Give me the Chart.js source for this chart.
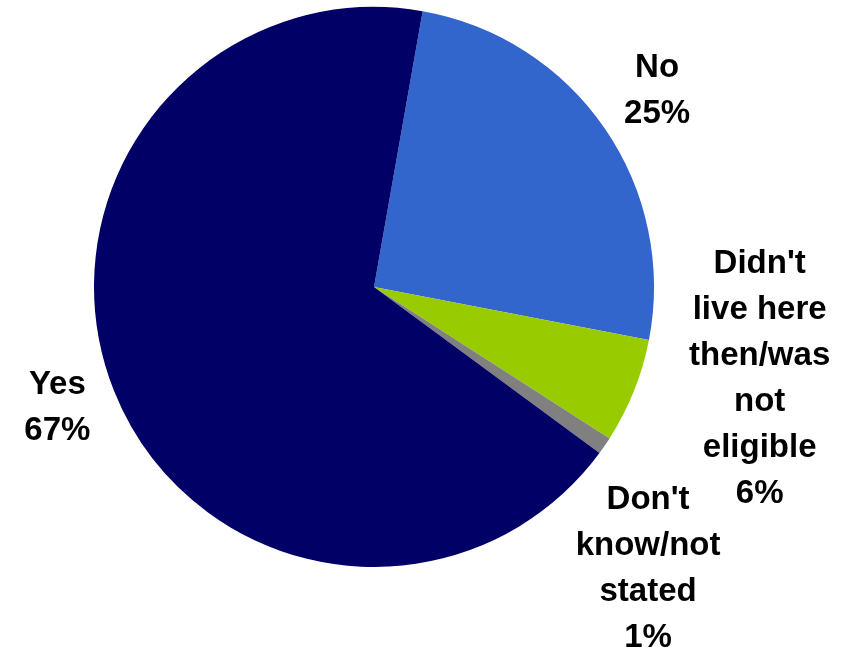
<!DOCTYPE html>
<html>
  <head>
    <title>Pie Chart</title>
    <script src="https://cdn.jsdelivr.net/npm/chart.js@4"></script>
    <style>
      body { margin: 0; background: #fff; }
    </style>
  </head>

  <body>
    <canvas id="canvas" width="858" height="651"></canvas>
    <script>
      // slices, clockwise from just right of the top
      const categories = [
        ['No'],
        ['Didn\'t', 'live here', 'then/was', 'not', 'eligible'],
        ['Don\'t', 'know/not', 'stated'],
        ['Yes'],
      ];
      const percents = [25, 6, 1, 67];
      const colors = ['#3366CC', '#99CC00', '#808080', '#000066'];
      // label nudges [dx, dy] from a point 60px outside the rim at each slice's mid-angle
      const labelNudge = [[3, -3], [70, -34], [-6, 89], [-1, -5]];

      const sliceLabels = {
        id: 'sliceLabels',
        afterDatasetsDraw(chart) {
          const ctx = chart.ctx;
          const arcs = chart.getDatasetMeta(0).data;
          ctx.save();
          ctx.font = 'bold 33px "Liberation Sans", Arial, Helvetica, sans-serif';
          ctx.fillStyle = '#000';
          ctx.textAlign = 'center';
          ctx.textBaseline = 'middle';
          const lineH = 46;
          arcs.forEach((arc, i) => {
            const mid = (arc.startAngle + arc.endAngle) / 2;
            const d = arc.outerRadius + 60;
            const cx = arc.x + Math.cos(mid) * d + labelNudge[i][0];
            const cy = arc.y + Math.sin(mid) * d + labelNudge[i][1];
            const lines = categories[i].concat([percents[i] + '%']);
            const top = cy - (lines.length - 1) * lineH / 2;
            lines.forEach((t, j) => ctx.fillText(t, cx, top + j * lineH));
          });
          ctx.restore();
        },
      };

      new Chart(document.getElementById('canvas'), {
        type: 'pie',
        data: {
          labels: categories.map((c) => c.join(' ')),
          datasets: [{
            data: percents,
            backgroundColor: colors,
            borderWidth: 0,
          }],
        },
        options: {
          responsive: false,
          animation: false,
          rotation: 10,
          layout: { padding: { left: 94, right: 204, top: 7, bottom: 84 } },
          plugins: {
            legend: { display: false },
            tooltip: { enabled: false },
          },
        },
        plugins: [sliceLabels],
      });
    </script>
  </body>
</html>
